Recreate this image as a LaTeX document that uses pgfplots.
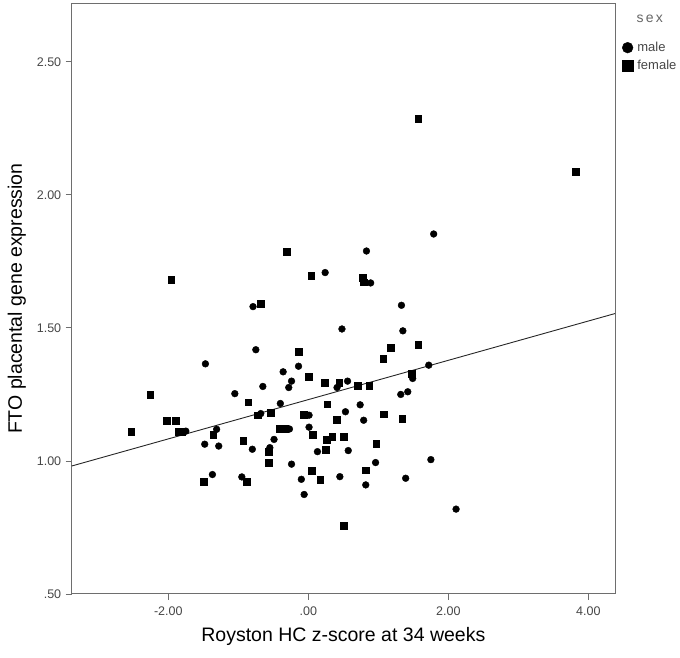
\documentclass[border=0pt]{standalone}
\usepackage{fontspec}
\setmainfont{Liberation Sans}
\usepackage{pgfplots}
\pgfplotsset{compat=1.18}
\definecolor{framegray}{RGB}{110,110,110}
\definecolor{ticktext}{RGB}{70,70,70}
\begin{document}
\begin{tikzpicture}
\path[use as bounding box] (-71.7pt,-64pt) rectangle (608.3pt,594pt);
\begin{axis}[
  at={(0pt,0pt)}, anchor=south west,
  scale only axis, width=543.3pt, height=590.7pt,
  xmin=-3.38, xmax=4.38, ymin=0.5, ymax=2.72,
  xtick={-2,0,2,4}, xticklabels={-2.00,.00,2.00,4.00},
  ytick={0.5,1,1.5,2,2.5}, yticklabels={.50,1.00,1.50,2.00,2.50},
  /pgf/number format/assume math mode=true,
  tick align=outside, major tick length=6pt,
  xtick pos=bottom, ytick pos=left,
  tick style={draw=framegray, line width=0.9pt},
  axis line style={draw=framegray, line width=1pt},
  ticklabel style={font=\fontsize{12.5}{13}\selectfont, text=ticktext},
  xticklabel style={yshift=-3pt},
  yticklabel style={xshift=-1pt},
  xlabel={Royston HC z-score at 34 weeks},
  ylabel={FTO placental gene expression},
  label style={font=\fontsize{19.5}{20}\selectfont, text=black},
  xlabel style={yshift=-5pt},
  ylabel style={yshift=4pt},
  legend style={at={(1.0126,0.937)}, anchor=north west, draw=none, fill=none,
    font=\fontsize{13}{14}\selectfont, text=ticktext, inner sep=0pt, row sep=4pt,
    nodes={inner sep=1.5pt}},
  legend cell align=left,
  clip=false,
]
\addplot[only marks, mark=*, mark size=3.4pt, black,
  legend image code/.code={\fill[black] (0pt,0pt) circle (5.4pt); \path (8pt,0pt);}] coordinates {
(-1.47,1.365) (0.24,1.708) (-0.79,1.58) (0.48,1.496) (-0.75,1.418)
(-0.14,1.356) (-0.36,1.335) (-0.24,1.30) (-0.28,1.276) (-0.65,1.28)
(-1.05,1.253) (0.41,1.276) (0.56,1.30) (-0.40,1.216) (1.79,1.853)
(0.83,1.789) (0.89,1.669) (1.33,1.585) (1.35,1.489) (1.72,1.36)
(1.49,1.31) (1.32,1.25) (1.42,1.26) (-1.75,1.112) (-1.31,1.119)
(-1.48,1.063) (-1.28,1.056) (-1.37,0.949) (0.53,1.185) (-0.68,1.178)
(0.01,1.172) (-0.27,1.12) (0.01,1.127) (-0.49,1.081) (-0.80,1.044)
(-0.55,1.05) (0.13,1.035) (0.57,1.039) (-0.24,0.988) (-0.10,0.931)
(-0.95,0.94) (0.45,0.941) (-0.06,0.874) (0.74,1.211) (0.79,1.153)
(0.96,0.994) (0.82,0.91) (1.39,0.935) (1.75,1.005) (2.11,0.819)
};
\addlegendentry{male}
\addplot[only marks, mark=square*, mark size=3.4pt, black,
  legend image code/.code={\fill[black] (-5.4pt,-5.4pt) rectangle (5.4pt,5.4pt); \path (8pt,0pt);}] coordinates {
(-1.96,1.68) (-2.26,1.25) (-0.31,1.786) (0.04,1.695) (-0.68,1.59)
(-0.14,1.41) (0.00,1.318) (0.23,1.294) (0.44,1.295) (-0.86,1.221)
(0.78,1.688) (0.79,1.672) (1.18,1.427) (1.57,1.436) (1.07,1.385)
(1.48,1.327) (0.70,1.283) (0.87,1.283) (-2.53,1.11) (-2.02,1.15)
(-1.89,1.151) (-1.86,1.11) (-1.81,1.11) (-1.36,1.098) (-1.49,0.923)
(0.27,1.213) (-0.72,1.172) (-0.54,1.18) (-0.07,1.175) (0.41,1.156)
(-0.41,1.12) (-0.33,1.12) (0.06,1.099) (-0.93,1.075) (-0.57,1.034)
(0.26,1.081) (0.34,1.092) (0.50,1.092) (0.25,1.041) (-0.57,0.994)
(0.05,0.963) (0.17,0.929) (-0.88,0.921) (0.51,0.756) (1.08,1.176)
(1.34,1.16) (0.97,1.065) (0.82,0.965) (1.57,2.285) (3.82,2.086)
};
\addlegendentry{female}
\addplot[black!85, line width=0.9pt, forget plot] coordinates {(-3.38,0.981) (4.38,1.554)};
\node[font=\fontsize{14}{14}\selectfont, text=black!60, anchor=center] at (rel axis cs:1.064,0.973) {s\,e\,x};
\end{axis}
\end{tikzpicture}
\end{document}
